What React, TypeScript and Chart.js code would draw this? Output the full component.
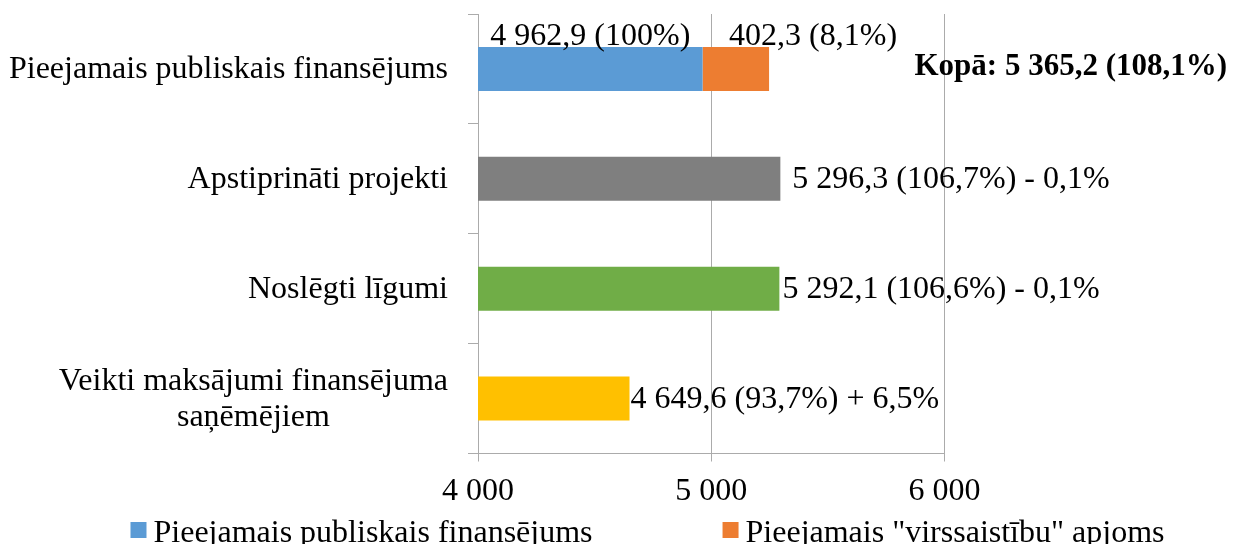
import { useEffect, useRef } from "react";
import { Chart, registerables } from "chart.js";

Chart.register(...registerables);

const categories: string[][] = [
  ["Pieejamais publiskais finansējums"],
  ["Apstiprināti projekti"],
  ["Noslēgti līgumi"],
  ["Veikti maksājumi finansējuma", "saņēmējiem"],
];
const seriesNames = ["Pieejamais publiskais finansējums", 'Pieejamais "virssaistību" apjoms'];
const mainValues = [4962.9, 5296.3, 5292.1, 4649.6];
const overValues = [285, null, null, null];
const barColors = ["#5B9BD5", "#7F7F7F", "#70AD47", "#FFC000"];
const overColor = "#ED7D31";
const valueLabels = [
  "4 962,9 (100%)",
  "5 296,3 (106,7%) - 0,1%",
  "5 292,1 (106,6%) - 0,1%",
  "4 649,6 (93,7%) + 6,5%",
];
const overLabel = "402,3 (8,1%)";
const totalLabel = "Kopā: 5 365,2 (108,1%)";
const xTicks = [4000, 5000, 6000];
const xTickLabels = ["4 000", "5 000", "6 000"];

const FONT = "'Liberation Serif', 'Times New Roman', serif";
const GRID = "#ababab";
const labelOffsets = [0, 12, 3, 1];

const textPlugin = {
  id: "customText",
  afterDraw(chart: any) {
    const ctx = chart.ctx as CanvasRenderingContext2D;
    const ys = chart.scales.y;
    const xs = chart.scales.x;
    const area = chart.chartArea;
    ctx.save();
    ctx.fillStyle = "#000";
    ctx.font = `32px ${FONT}`;
    ctx.textBaseline = "alphabetic";

    // category labels (wrapped lines centred within a right-aligned block)
    categories.forEach((lines, i) => {
      const cy = ys.getPixelForValue(i);
      const right = ys.right - 30;
      const maxW = Math.max(...lines.map((l) => ctx.measureText(l).width));
      const cx = right - maxW / 2;
      ctx.textAlign = "center";
      lines.forEach((l, k) => {
        ctx.fillText(l, cx, cy + 9 - (lines.length - 1) * 18 + k * 36);
      });
    });

    // data labels
    const m0 = chart.getDatasetMeta(0);
    const m1 = chart.getDatasetMeta(1);
    const b0 = m0.data[0].getProps(["x", "y", "base", "height"], true);
    const left0 = Math.max(Math.min(b0.base, b0.x), area.left);
    ctx.textAlign = "center";
    ctx.fillText(valueLabels[0], (left0 + b0.x) / 2, b0.y - b0.height / 2 - 2);

    const o = m1.data[0].getProps(["x", "y", "base", "height"], true);
    ctx.textAlign = "left";
    ctx.fillText(overLabel, o.x - 40, o.y - o.height / 2 - 2);

    for (let i = 1; i < mainValues.length; i++) {
      const b = m0.data[i].getProps(["x", "y"], true);
      ctx.fillText(valueLabels[i], b.x + labelOffsets[i], b.y + 9.5);
    }

    ctx.font = `bold 31px ${FONT}`;
    ctx.fillText(totalLabel, xs.getPixelForValue(6000) - 30, b0.y + 6);

    // legend
    ctx.font = `32px ${FONT}`;
    const box = 16;
    const gap = 7;
    const spacing = 130;
    const w1 = ctx.measureText(seriesNames[0]).width;
    const w2 = ctx.measureText(seriesNames[1]).width;
    const total = box + gap + w1 + spacing + box + gap + w2;
    let lx = 647.5 - total / 2;
    const baseY = 542;
    const items = [
      { name: seriesNames[0], color: barColors[0], w: w1 },
      { name: seriesNames[1], color: overColor, w: w2 },
    ];
    items.forEach((it) => {
      ctx.fillStyle = it.color;
      ctx.fillRect(lx, 522, box, box);
      ctx.fillStyle = "#000";
      ctx.textAlign = "left";
      ctx.fillText(it.name, lx + box + gap, baseY);
      lx += box + gap + it.w + spacing;
    });
    ctx.restore();
  },
};

export default function App() {
  const ref = useRef<HTMLCanvasElement | null>(null);
  useEffect(() => {
    if (!ref.current) return;
    const chart = new Chart(ref.current, {
      type: "bar",
      data: {
        labels: categories.map((c) => c.join(" ")),
        datasets: [
          {
            label: seriesNames[0],
            data: mainValues,
            backgroundColor: barColors,
            borderWidth: 0,
            barPercentage: 0.4,
            categoryPercentage: 1,
          },
          {
            label: seriesNames[1],
            data: overValues as any,
            backgroundColor: overColor,
            borderWidth: 0,
            barPercentage: 0.4,
            categoryPercentage: 1,
          },
        ],
      },
      options: {
        indexAxis: "y",
        animation: false,
        responsive: true,
        maintainAspectRatio: false,
        layout: { padding: { top: 14, right: 293.5, left: 0, bottom: 0 } },
        plugins: {
          legend: { display: false },
          tooltip: { enabled: false },
        },
        scales: {
          x: {
            type: "linear",
            stacked: true,
            min: 4000,
            max: 6000,
            ticks: {
              stepSize: 1000,
              color: "#000",
              font: { family: FONT, size: 32 },
              padding: 11,
              callback: (v: any) => {
                const idx = xTicks.indexOf(Number(v));
                return idx >= 0 ? xTickLabels[idx] : "";
              },
            },
            grid: { color: GRID, lineWidth: 1, drawTicks: true, tickLength: 8 },
            border: { display: true, color: GRID, width: 1 },
            afterFit: (s: any) => {
              s.height = 90.5;
            },
          },
          y: {
            type: "category",
            stacked: true,
            offset: true,
            ticks: { display: false },
            grid: {
              offset: true,
              drawOnChartArea: false,
              drawTicks: true,
              tickLength: 10,
              color: GRID,
            },
            border: { display: true, color: GRID, width: 1 },
            afterFit: (s: any) => {
              s.width = 478;
            },
          },
        },
      },
      plugins: [textPlugin],
    });
    return () => chart.destroy();
  }, []);
  return (
    <div
      style={{
        position: "fixed",
        left: 0,
        top: 0,
        width: 1238,
        height: 544,
        overflow: "hidden",
        background: "#fff",
      }}
    >
      <canvas ref={ref} />
    </div>
  );
}
